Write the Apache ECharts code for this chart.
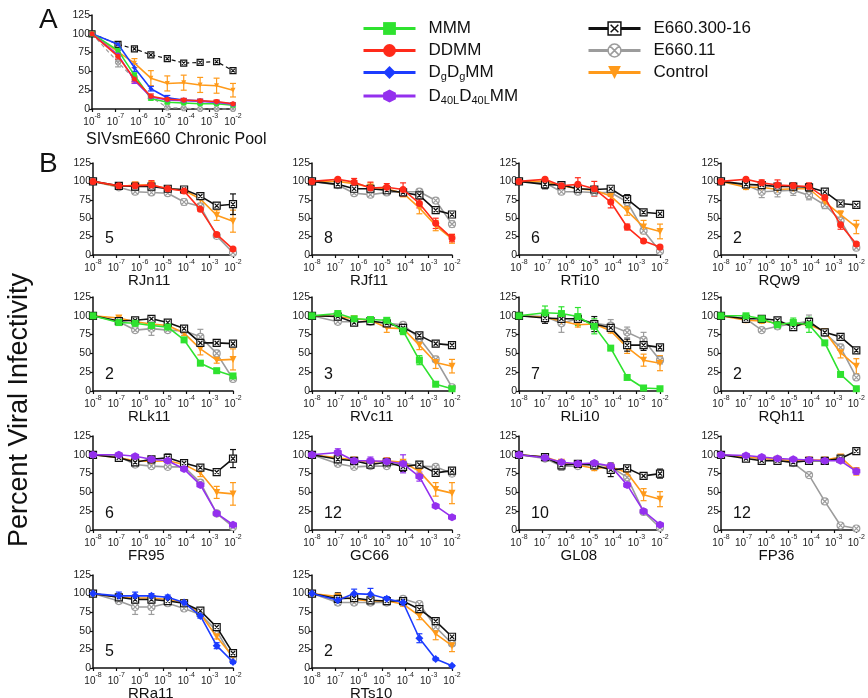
<!DOCTYPE html>
<html><head><meta charset="utf-8">
<script src="https://cdn.jsdelivr.net/npm/echarts@6/dist/echarts.min.js"></script>
<style>html,body{margin:0;padding:0;background:#fff}#c{width:868px;height:698px}</style>
</head><body><div id="c"></div>
<script>
// ---------- data ----------
const X_CONC = [1e-8, 1.28e-7, 6.4e-7, 3.2e-6, 1.6e-5, 8e-5, 4e-4, 2e-3, 1e-2];
const X_TICKS = [-8, -7, -6, -5, -4, -3, -2];
const Y_TICKS = [0, 25, 50, 75, 100, 125];

// Panel A (SIVsmE660 Chronic Pool)
const A_MMM      = [100, 78, 45, 14, 9, 8, 7, 7, 5];
const A_DDMM     = [100, 70, 40, 17, 13, 12, 11, 10, 7];
const A_DgDgMM   = [100, 86, 55, 27, 15, 12, 11, 9, 7];
const A_D40L     = [100, 72, 38, 16, 12, 11, 10, 9, 6];
const A_E300     = [100, 86, 80, 72, 67, 61, 62, 63, 51];
const A_E11      = [100, 62, 40, 16, 2, 1, 0, 0, 0];
const A_Control  = [100, 76, 61, 41, 34, 35, 32, 31, 25];
const A_MMM_err     = [0, 3, 3, 2, 2, 1, 1, 1, 1];
const A_DDMM_err    = [0, 4, 4, 3, 2, 2, 2, 2, 1];
const A_DgDgMM_err  = [0, 2, 5, 3, 3, 2, 2, 2, 1];
const A_D40L_err    = [0, 6, 4, 2, 2, 2, 2, 2, 1];
const A_E300_err    = [0, 2, 2, 2, 1, 1, 1, 2, 2];
const A_E11_err     = [0, 6, 3, 2, 1, 1, 0, 0, 0];
const A_Control_err = [0, 6, 6, 10, 10, 10, 10, 10, 9];

// Panel B: names, numbers, treatment
const B_NAMES = ['RJn11','RJf11','RTi10','RQw9','RLk11','RVc11','RLi10','RQh11','FR95','GC66','GL08','FP36','RRa11','RTs10'];
const B_COUNTS = [5, 8, 6, 2, 2, 3, 7, 2, 6, 12, 10, 12, 5, 2];
const B_TREAT = ['DDMM','DDMM','DDMM','DDMM','MMM','MMM','MMM','MMM','D40L','D40L','D40L','D40L','DgDgMM','DgDgMM'];

// each panel: rows = [E660.300-16, E660.11, Control, treatment]
const RJn11_vals = [[100,94,93,93,90,89,80,67,69],[100,92,86,85,84,72,66,26,3],[100,93,95,95,90,88,76,54,46],[100,94,94,95,90,87,62,28,8]];
const RJn11_errs = [[0,2,3,3,3,2,3,4,14],[0,2,3,3,3,4,3,2,1],[0,2,3,5,3,3,6,7,15],[0,2,5,6,4,3,2,2,1]];
const RJf11_vals = [[100,96,90,90,88,85,81,61,55],[100,95,84,82,85,86,86,74,42],[100,100,97,92,90,84,64,40,22],[100,103,99,91,92,89,70,43,23]];
const RJf11_errs = [[0,2,2,3,2,3,3,2,3],[0,2,3,3,3,3,3,3,4],[0,3,4,6,4,5,8,7,6],[0,2,5,8,5,9,6,7,5]];
const RTi10_vals = [[100,96,95,90,89,90,76,58,56],[100,98,86,86,85,85,72,33,5],[100,100,94,90,88,80,60,38,32],[100,103,94,96,90,72,38,19,11]];
const RTi10_errs = [[0,6,3,3,3,3,6,2,2],[0,3,3,3,3,3,4,3,1],[0,3,3,4,4,6,6,9,10],[0,2,3,9,10,8,4,2,2]];
const RQw9_vals  = [[100,96,95,93,93,92,86,70,68],[100,95,86,87,88,81,68,47,10],[100,92,92,89,90,90,72,55,38],[100,103,98,95,94,93,78,41,15]];
const RQw9_errs  = [[0,2,2,3,2,5,3,2,2],[0,2,8,8,7,6,5,4,2],[0,3,3,3,3,3,3,5,9],[0,2,4,7,4,5,6,6,2]];
const RLk11_vals = [[100,93,94,96,91,83,64,64,63],[100,92,81,83,81,80,72,50,16],[100,97,92,89,87,77,56,41,42],[100,91,90,87,85,68,37,27,20]];
const RLk11_errs = [[0,2,2,3,2,3,3,2,2],[0,2,3,9,3,3,10,4,2],[0,3,3,3,3,3,8,4,14],[0,2,2,2,2,2,2,2,2]];
const RVc11_vals = [[100,99,91,93,90,84,74,63,61],[100,92,92,92,90,88,70,42,5],[100,99,96,94,84,83,61,38,33],[100,103,96,95,94,80,41,9,3]];
const RVc11_errs = [[0,2,2,2,2,2,2,2,2],[0,2,2,2,2,2,3,3,1],[0,2,3,3,6,3,6,8,9],[0,3,3,3,3,5,6,2,1]];
const RLi10_vals = [[100,97,96,96,89,84,61,61,58],[100,99,90,96,90,87,78,68,41],[100,98,93,88,89,80,58,41,37],[100,104,103,99,86,57,18,4,3]];
const RLi10_errs = [[0,7,3,3,10,3,8,7,3],[0,3,12,4,4,8,7,10,5],[0,3,3,3,3,3,8,8,10],[0,9,9,12,10,2,2,1,1]];
const RQh11_vals = [[100,96,96,94,85,92,78,72,54],[100,96,81,86,89,93,77,58,18],[100,94,93,90,89,88,79,51,33],[100,100,96,88,91,88,64,22,3]];
const RQh11_errs = [[0,2,2,2,2,3,2,2,2],[0,2,3,3,6,8,3,4,2],[0,3,3,3,3,3,3,7,10],[0,2,2,5,6,10,2,2,1]];
const FR95_vals  = [[100,96,90,94,96,89,83,77,95],[100,98,87,85,84,84,63,22,4],[100,96,92,91,92,87,76,50,48],[100,100,98,94,92,81,60,22,7]];
const FR95_errs  = [[0,2,5,3,5,2,2,2,12],[0,2,3,2,2,2,3,2,1],[0,2,3,3,3,3,5,8,15],[0,2,2,2,2,2,2,2,1]];
const GC66_vals  = [[100,94,92,87,90,84,87,76,79],[100,88,84,85,85,89,85,84,75],[100,96,93,90,92,90,78,54,49],[100,103,92,92,91,88,71,32,17]];
const GC66_errs  = [[0,3,3,3,3,6,3,3,4],[0,2,2,2,2,2,2,3,3],[0,3,3,3,3,3,3,9,14],[0,5,3,5,5,12,6,2,1]];
const GL08_vals  = [[100,97,86,88,86,80,82,72,75],[100,95,85,85,88,84,70,24,3],[100,97,90,86,82,84,76,47,41],[100,96,90,88,89,85,60,25,7]];
const GL08_errs  = [[0,3,6,3,3,9,4,4,6],[0,2,3,3,3,3,3,2,1],[0,3,3,3,3,3,5,8,10],[0,2,2,2,2,2,3,2,1]];
const FP36_vals  = [[100,95,92,92,90,92,92,95,105],[100,97,95,93,89,73,38,6,2],[100,97,95,94,92,93,93,97,78],[100,99,97,95,94,93,92,92,78]];
const FP36_errs  = [[0,2,2,2,2,2,2,2,3],[0,2,2,2,2,3,3,2,1],[0,2,2,2,2,2,2,2,5],[0,2,2,2,2,2,2,2,4]];
const RRa11_vals = [[100,95,92,92,90,87,77,55,20],[100,90,82,82,87,80,72,50,12],[100,95,94,94,92,88,73,42,15],[100,97,97,97,95,88,70,30,8]];
const RRa11_errs = [[0,3,3,3,3,3,3,3,3],[0,3,10,10,3,3,3,3,2],[0,3,3,3,3,3,3,3,3],[0,5,5,3,3,3,3,4,2]];
const RTs10_vals = [[100,93,94,91,90,90,79,63,42],[100,88,88,88,88,93,86,55,33],[100,96,92,90,90,86,70,46,30],[100,91,100,99,93,88,40,12,3]];
const RTs10_errs = [[0,8,3,3,3,3,3,3,3],[0,3,3,3,3,3,3,3,3],[0,3,3,3,3,3,5,8,8],[0,3,6,8,3,3,6,2,1]];

const B_VALS = [RJn11_vals,RJf11_vals,RTi10_vals,RQw9_vals,RLk11_vals,RVc11_vals,RLi10_vals,RQh11_vals,FR95_vals,GC66_vals,GL08_vals,FP36_vals,RRa11_vals,RTs10_vals];
const B_ERRS = [RJn11_errs,RJf11_errs,RTi10_errs,RQw9_errs,RLk11_errs,RVc11_errs,RLi10_errs,RQh11_errs,FR95_errs,GC66_errs,GL08_errs,FP36_errs,RRa11_errs,RTs10_errs];

// ---------- styles ----------
const HEX = 'path://M5,0 L9.33,2.5 L9.33,7.5 L5,10 L0.67,7.5 L0.67,2.5 Z';
const TRI_DOWN = 'path://M0,0 L10,0 L5,8.66 Z';
const BOX_X = 'path://M0,0 L10,0 L10,10 L0,10 Z M2,2 L8,8 M8,2 L2,8';
const CIRC_X = 'path://M5,0 A5,5 0 1 1 4.99,0 Z M1.6,1.6 L8.4,8.4 M8.4,1.6 L1.6,8.4';
const STY = {
  MMM:    {name:'MMM', color:'#2fe22f', symbol:'rect', size:7},
  DDMM:   {name:'DDMM', color:'#ff2a1a', symbol:'circle', size:7},
  DgDgMM: {name:'DgDgMM', color:'#1c3cff', symbol:'diamond', size:8},
  D40L:   {name:'D40LD40LMM', color:'#9430ee', symbol:HEX, size:8},
  E300:   {name:'E660.300-16', color:'#111111', symbol:BOX_X, size:7, hollow:true},
  E11:    {name:'E660.11', color:'#9c9c9c', symbol:CIRC_X, size:7, hollow:true},
  Control:{name:'Control', color:'#ff9a1a', symbol:TRI_DOWN, size:7}
};
const xLog = X_CONC.map(Math.log10);

const grids = [], xAxes = [], yAxes = [], series = [], graphics = [];
const axisTxt = '#222';

function addGrid(rect) {
  const gi = grids.length;
  grids.push({left: rect[0], top: rect[1], width: rect[2], height: rect[3]});
  xAxes.push({gridIndex: gi, type: 'value', min: X_TICKS[0], max: X_TICKS[X_TICKS.length-1], interval: 1,
    axisLine: {show: true, onZero: false, lineStyle: {color: '#111', width: 1.5}},
    axisTick: {show: true, length: 3, lineStyle: {color: '#111', width: 1.2}},
    splitLine: {show: false},
    axisLabel: {margin: 4, color: axisTxt, formatter: v => '{b|10}{s|' + v + '}',
      rich: {b: {fontSize: 10, lineHeight: 14, verticalAlign: 'bottom', fontFamily: 'Liberation Sans', color: axisTxt},
             s: {fontSize: 7, lineHeight: 8, verticalAlign: 'top', fontFamily: 'Liberation Sans', color: axisTxt}}}
  });
  yAxes.push({gridIndex: gi, type: 'value', min: Y_TICKS[0], max: Y_TICKS[Y_TICKS.length-1], interval: 25,
    axisLine: {show: true, lineStyle: {color: '#111', width: 1.5}},
    axisTick: {show: true, length: 3, lineStyle: {color: '#111', width: 1.2}},
    splitLine: {show: false},
    axisLabel: {margin: 2, fontSize: 10.5, color: axisTxt, fontFamily: 'Liberation Sans'}
  });
  return gi;
}

function errRender(color) {
  return function (params, api) {
    const x = api.value(0), lo = api.value(1), hi = api.value(2);
    if (!(hi - lo > 0)) return null;
    const p1 = api.coord([x, hi]), p2 = api.coord([x, lo]);
    const w = 3, st = {stroke: color, lineWidth: 1.2};
    return {type: 'group', children: [
      {type: 'line', shape: {x1: p1[0], y1: p1[1], x2: p2[0], y2: p2[1]}, style: st},
      {type: 'line', shape: {x1: p1[0]-w, y1: p1[1], x2: p1[0]+w, y2: p1[1]}, style: st},
      {type: 'line', shape: {x1: p2[0]-w, y1: p2[1], x2: p2[0]+w, y2: p2[1]}, style: st}
    ]};
  };
}

function addSeries(gi, key, vals, errs, opts) {
  const s = STY[key];
  const sz = opts.size || s.size;
  series.push({type: 'custom', name: s.name + ' err', xAxisIndex: gi, yAxisIndex: gi, z: 1,
    renderItem: errRender(s.color), silent: true, animation: false, clip: false,
    data: xLog.map((x, i) => [x, vals[i] - errs[i], vals[i] + errs[i]]),
    encode: {x: 0, y: [1, 2]}});
  series.push({type: 'line', name: s.name, xAxisIndex: gi, yAxisIndex: gi, z: opts.z || 2,
    symbol: s.symbol, symbolSize: sz, showSymbol: true, animation: false, clip: false,
    lineStyle: {color: s.color, width: opts.lw || 1.6, type: opts.dashed ? [4, 3] : 'solid'},
    itemStyle: s.hollow ? {color: '#fff', borderColor: s.color, borderWidth: 1.2} : {color: s.color},
    data: xLog.map((x, i) => [x, vals[i]])});
}

// ---------- panel B layout ----------
const ROW_TOP = [163, 297, 436, 575];
const ROW_H = [92, 94, 94, 93];
const COL_LEFT = [93, 312, 519, 721];
const COL_W = [140, 140, 141, 139];
const NAME_SHIFT = [-5, -2, 1, -2];

B_NAMES.forEach((nm, k) => {
  const r = Math.floor(k / 4), c = k % 4;
  const rect = [COL_LEFT[c], ROW_TOP[r], COL_W[c], ROW_H[r]];
  const gi = addGrid(rect);
  const v = B_VALS[k], e = B_ERRS[k];
  addSeries(gi, 'E11', v[1], e[1], {z: 2});
  addSeries(gi, 'Control', v[2], e[2], {z: 3});
  addSeries(gi, 'E300', v[0], e[0], {z: 4});
  addSeries(gi, B_TREAT[k], v[3], e[3], {z: 5});
  graphics.push({type: 'text', left: rect[0] + rect[2] / 2 - 30 + NAME_SHIFT[c], top: rect[1] + rect[3] + 18,
    style: {text: nm, font: '15px "Liberation Sans", Arial', fill: '#111', width: 60, align: 'center'}});
  graphics.push({type: 'text', left: rect[0] + 12, top: rect[1] + rect[3] - 24,
    style: {text: String(B_COUNTS[k]), font: '16px "Liberation Sans", Arial', fill: '#111'}});
});

// ---------- panel A ----------
const giA = addGrid([92, 15, 141, 94]);
addSeries(giA, 'E11', A_E11, A_E11_err, {dashed: true, size: 5, lw: 1.2, z: 2});
addSeries(giA, 'E300', A_E300, A_E300_err, {dashed: true, size: 6, lw: 1.2, z: 2});
addSeries(giA, 'Control', A_Control, A_Control_err, {size: 5, z: 3});
addSeries(giA, 'DgDgMM', A_DgDgMM, A_DgDgMM_err, {size: 5, z: 4});
addSeries(giA, 'MMM', A_MMM, A_MMM_err, {size: 5, z: 4});
addSeries(giA, 'D40L', A_D40L, A_D40L_err, {size: 5, z: 4});
addSeries(giA, 'DDMM', A_DDMM, A_DDMM_err, {size: 5, z: 5});

graphics.push({type: 'text', left: 86, top: 132,
  style: {text: 'SIVsmE660 Chronic Pool', font: '16px "Liberation Sans", Arial', fill: '#111'}});
graphics.push({type: 'text', left: 39, top: 6, style: {text: 'A', font: '28px "Liberation Sans", Arial', fill: '#111'}});
graphics.push({type: 'text', left: 39, top: 150, style: {text: 'B', font: '28px "Liberation Sans", Arial', fill: '#111'}});
graphics.push({type: 'text', x: 6, y: 547, rotation: Math.PI / 2,
  style: {text: 'Percent Viral Infectivity', font: '27px "Liberation Sans", Arial', fill: '#111'}});

// ---------- legend ----------
const LEG_TXT = {
  'MMM': '{g|}{n|MMM}', 'DDMM': '{g|}{n|DDMM}', 'DgDgMM': '{g|}{n|D}{sub|g}{n|D}{sub|g}{n|MM}',
  'D40LD40LMM': '{g|}{n|D}{sub|40L}{n|D}{sub|40L}{n|MM}',
  'E660.300-16': '{g|}{n|E660.300-16}', 'E660.11': '{g|}{n|E660.11}', 'Control': '{g|}{n|Control}'
};
const legRich = {g: {width: 8}, n: {fontSize: 17, lineHeight: 20, color: '#111', fontFamily: 'Liberation Sans'},
  sub: {fontSize: 11, lineHeight: 10, verticalAlign: 'bottom', color: '#111', fontFamily: 'Liberation Sans'}};
function legItem(key) {
  const s = STY[key];
  return {name: s.name, lineStyle: {width: 3, type: 'solid', color: s.color},
    itemStyle: s.hollow ? {color: '#fff', borderColor: s.color, borderWidth: 1.5} : {color: s.color}};
}
const legendBase = {orient: 'vertical', itemWidth: 52, itemHeight: 16, itemGap: 5, selectedMode: false,
  formatter: n => LEG_TXT[n], textStyle: {rich: legRich}};

const chart = echarts.init(document.getElementById('c'), null, {renderer: 'canvas'});
chart.setOption({
  animation: false,
  backgroundColor: '#fff',
  textStyle: {fontFamily: 'Liberation Sans'},
  grid: grids, xAxis: xAxes, yAxis: yAxes, series: series,
  legend: [
    Object.assign({left: 357, top: 15, data: ['MMM','DDMM','DgDgMM','D40L'].map(legItem)}, legendBase),
    Object.assign({left: 582, top: 15, data: ['E300','E11','Control'].map(legItem)}, legendBase)
  ],
  graphic: graphics
});
</script></body></html>
